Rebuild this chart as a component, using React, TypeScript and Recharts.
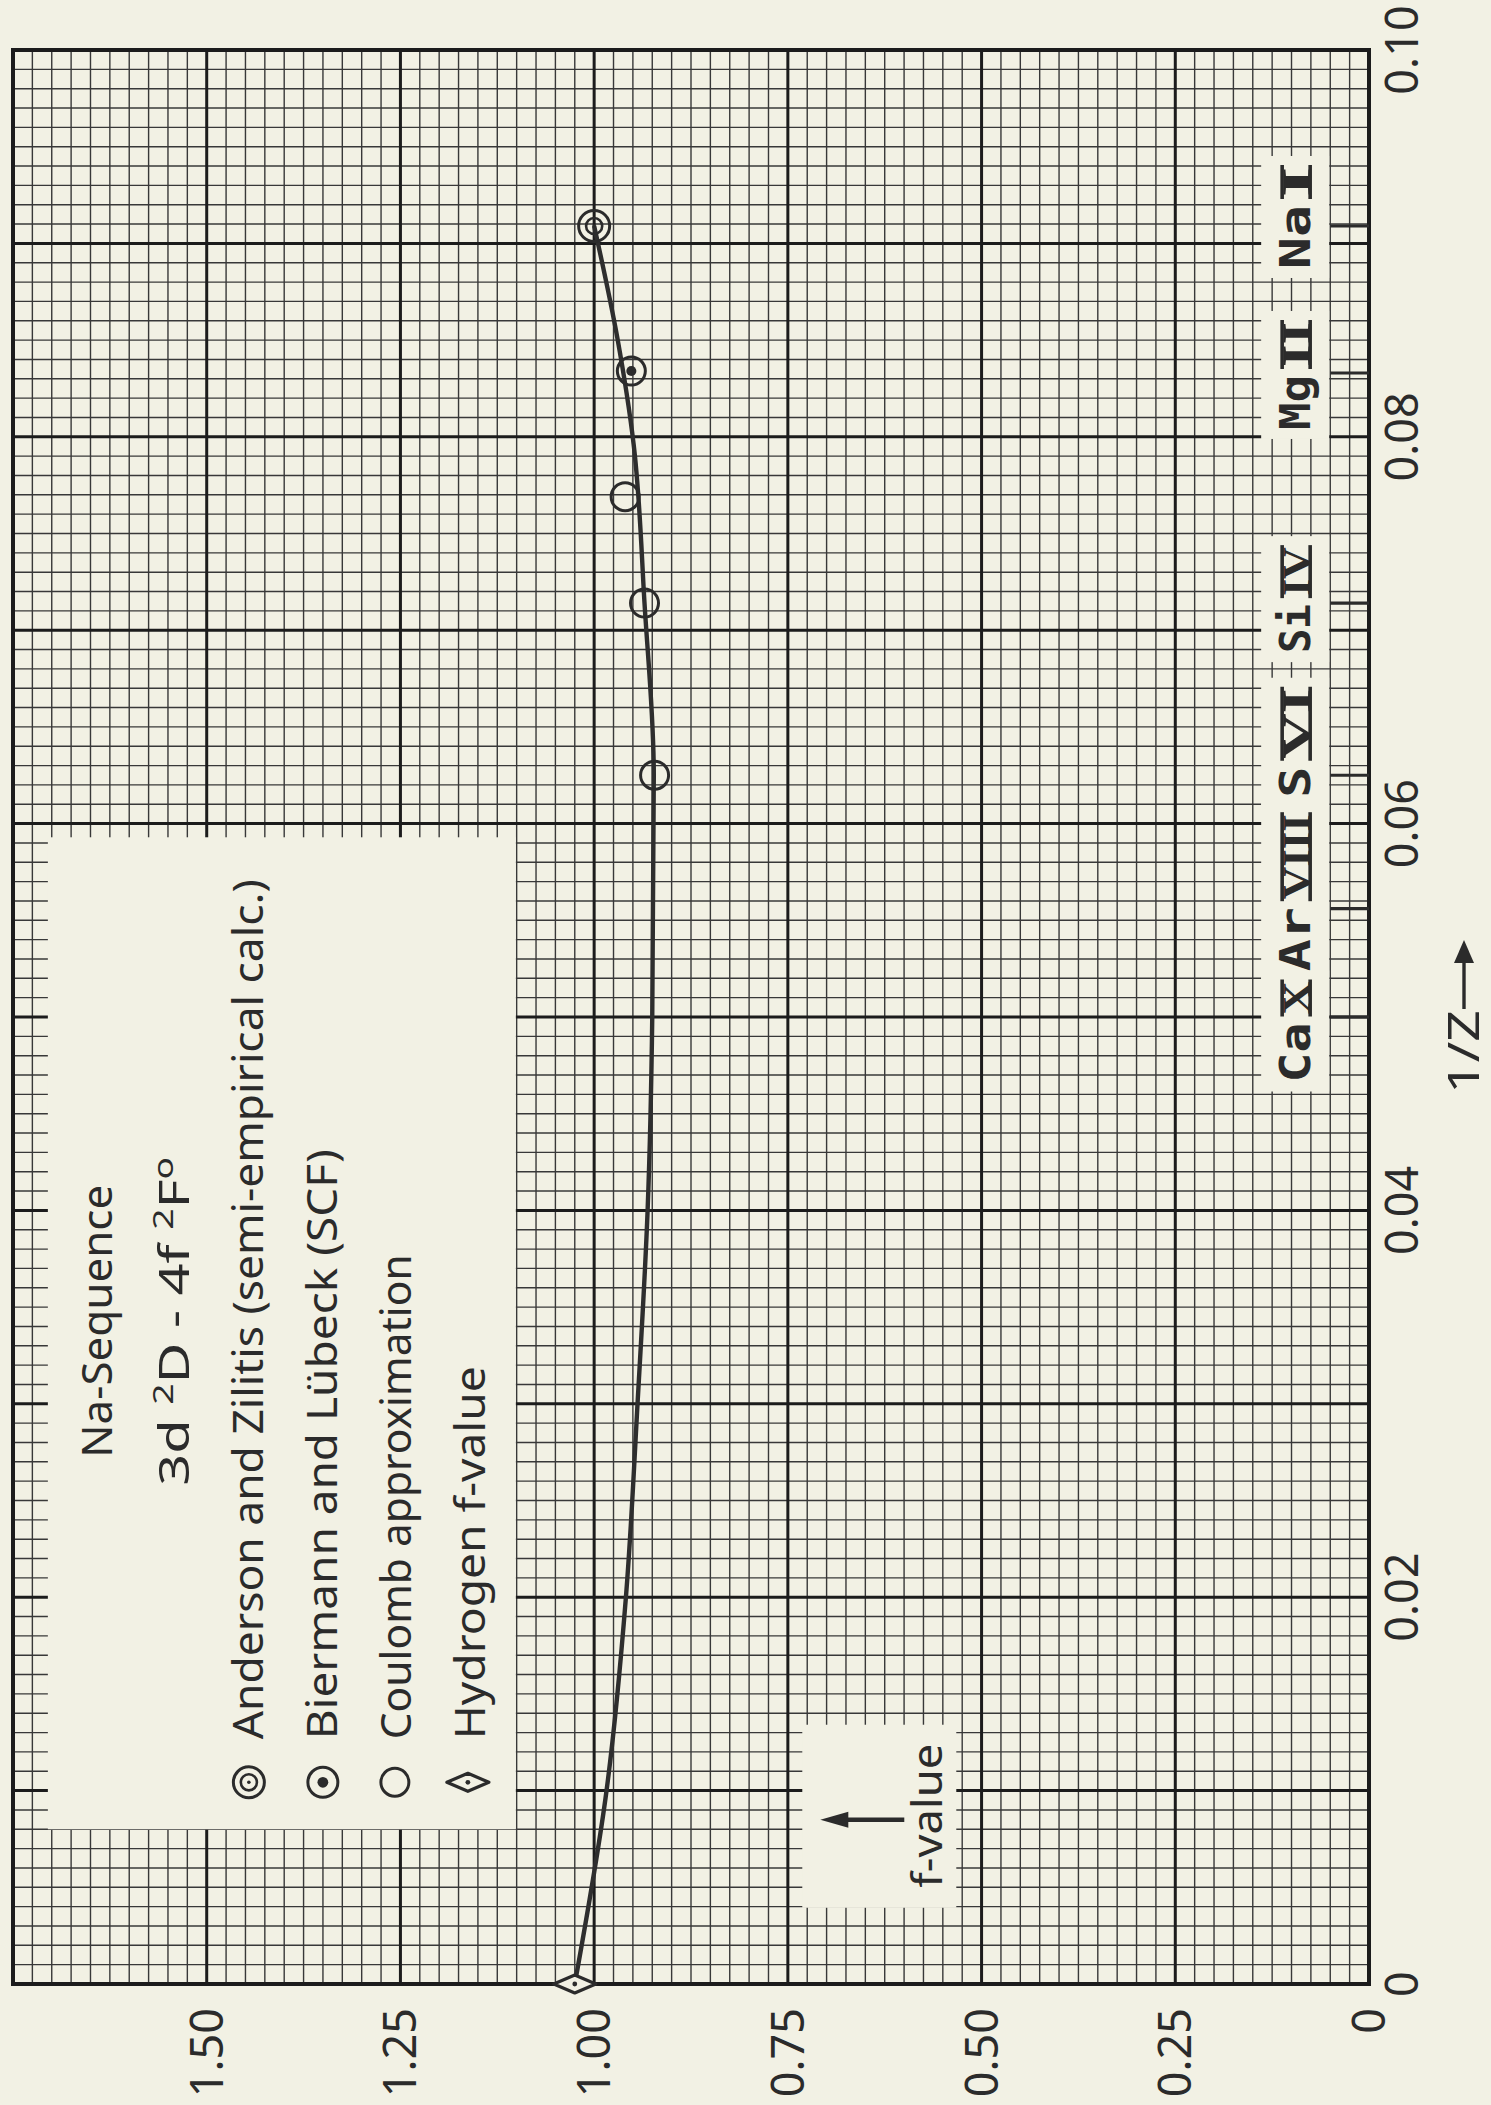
import React from 'react';
import {
  ComposedChart,
  XAxis,
  YAxis,
  CartesianGrid,
  Line,
  Scatter,
  ReferenceDot,
  ReferenceLine,
  ReferenceArea,
} from 'recharts';

const WIDTH = 1491;
const HEIGHT = 2105;
const PAPER = '#f2f1e4';
const INK = '#2b2b2b';
const SANS = '"Noto Sans", "Open Sans", "DejaVu Sans", sans-serif';

// ---------- data (1/Z, f-value) ----------
const curveZ = [0, 0.01, 0.02, 0.03, 0.04, 0.05, 0.0625, 0.0714, 0.0796, 0.0851, 0.0909];
const curveF = [1.025, 0.984, 0.959, 0.944, 0.931, 0.925, 0.923, 0.935, 0.949, 0.97, 1.0];

const andersonZ = [0.0909];
const andersonF = [1.0];
const biermannZ = [0.0834];
const biermannF = [0.952];
const coulombZ = [0.0769, 0.0714, 0.0625];
const coulombF = [0.96, 0.935, 0.922];
const hydrogenZ = [0];
const hydrogenF = [1.025];

const fTicks = [0, 0.25, 0.5, 0.75, 1.0, 1.25, 1.5];
const fTickLabels = ['0', '0.25', '0.50', '0.75', '1.00', '1.25', '1.50'];
const zTicks = [0, 0.02, 0.04, 0.06, 0.08, 0.1];
const zTickLabels = ['0', '0.02', '0.04', '0.06', '0.08', '0.10'];

const ionElements = ['Na', 'Mg', 'Si', 'S', 'Ar', 'Ca'];
const ionStages = ['I', 'II', 'IV', 'VI', 'VIII', 'X'];
const ionZ = [0.0909, 0.0833, 0.0714, 0.0625, 0.0556, 0.05];

const legendTitle = 'Na-Sequence';
const legendLabels = [
  'Anderson and Zilitis (semi-empirical calc.)',
  'Biermann and Lübeck (SCF)',
  'Coulomb approximation',
  'Hydrogen f-value',
];

// ---------- layout / style constants ----------
const ionLabelShift = [-9, 2, -4, -33, -17, 14];
const ionElemLen = [64, 55, 49, 31, 64, 60];
const ionStageLen = [34, 49, 53, 74, 89, 37];
const legendLens = [860, 590, 485, 373];

// graph-paper rulings
const minorF = Array.from({ length: 71 }, (_, i) => Math.round(i * 25) / 1000);
const majorF = Array.from({ length: 8 }, (_, i) => i * 0.25);
const minorZ = Array.from({ length: 101 }, (_, i) => i / 1000);
const majorZ = Array.from({ length: 11 }, (_, i) => i / 100);

const zip = (zs: number[], fs: number[]) => zs.map((z, i) => ({ z, f: fs[i] }));
const curveData = zip(curveZ, curveF).slice().reverse();
const andersonData = zip(andersonZ, andersonF);
const biermannData = zip(biermannZ, biermannF);
const coulombData = zip(coulombZ, coulombF);
const hydrogenData = zip(hydrogenZ, hydrogenF);

// ---------- marker drawings ----------
const drawAnderson = (cx: number, cy: number, r = 15.5) => (
  <g>
    <circle cx={cx} cy={cy} r={r} fill="none" stroke={INK} strokeWidth={3} />
    <circle cx={cx} cy={cy} r={r * 0.52} fill="none" stroke={INK} strokeWidth={2.6} />
    <circle cx={cx} cy={cy} r={1.8} fill={INK} />
  </g>
);
const drawBiermann = (cx: number, cy: number, r = 14) => (
  <g>
    <circle cx={cx} cy={cy} r={r} fill="none" stroke={INK} strokeWidth={3} />
    <circle cx={cx} cy={cy} r={r * 0.36} fill={INK} />
  </g>
);
const drawCoulomb = (cx: number, cy: number, r = 14) => (
  <circle cx={cx} cy={cy} r={r} fill="none" stroke={INK} strokeWidth={3} />
);
const drawHydrogen = (cx: number, cy: number) => (
  <g>
    <polygon
      points={`${cx - 21},${cy} ${cx},${cy - 9} ${cx + 21},${cy} ${cx},${cy + 9}`}
      fill={PAPER}
      stroke={INK}
      strokeWidth={3.2}
      strokeLinejoin="round"
    />
    <circle cx={cx} cy={cy} r={2.4} fill={INK} />
  </g>
);

// ---------- rotated text helper ----------
const RText = (props: {
  x: number;
  y: number;
  anchor?: string;
  size: number;
  len?: number;
  family?: string;
  weight?: number | string;
  children: React.ReactNode;
}) => (
  <text
    transform={`translate(${props.x},${props.y}) rotate(-90)`}
    textAnchor={props.anchor || 'start'}
    fontSize={props.size}
    fontFamily={props.family || SANS}
    fontWeight={props.weight || 400}
    fill={INK}
    textLength={props.len}
    lengthAdjust={props.len ? 'spacingAndGlyphs' : undefined}
  >
    {props.children}
  </text>
);

// ---------- axis ticks ----------
const FTick = (p: any) => {
  const i = fTicks.indexOf(p.payload.value);
  if (i < 0) return null;
  return (
    <RText x={p.x + 16} y={p.y + 24} anchor="end" size={45}>
      {fTickLabels[i]}
    </RText>
  );
};
const ZTick = (p: any) => {
  const i = zTicks.indexOf(p.payload.value);
  if (i < 0) return null;
  return (
    <RText x={p.x + 49} y={p.y} anchor="middle" size={45}>
      {zTickLabels[i]}
    </RText>
  );
};

// ---------- annotation shapes ----------
const LegendShape = (p: any) => {
  const { cx, cy } = p; // lower-left corner of the legend panel
  return (
    <g>
      <rect x={cx} y={cy - 992} width={468} height={992} fill={PAPER} />
      <RText x={cx + 64} y={cy - 508} anchor="middle" size={42} len={273}>
        {legendTitle}
      </RText>
      <text
        transform={`translate(${cx + 141},${cy - 508}) rotate(-90)`}
        textAnchor="middle"
        fontSize={42}
        fontFamily={SANS}
        fill={INK}
        textLength={329}
        lengthAdjust="spacingAndGlyphs"
      >
        {'3d '}
        <tspan dy={-16} fontSize={28}>2</tspan>
        <tspan dy={16}>{'D  -  4f '}</tspan>
        <tspan dy={-16} fontSize={28}>2</tspan>
        <tspan dy={16}>F</tspan>
        <tspan dy={-16} fontSize={28}>o</tspan>
      </text>
      {legendLabels.map((t, i) => (
        <RText key={t} x={cx + 215 + 74 * i} y={cy - 90} size={42} len={legendLens[i]}>
          {t}
        </RText>
      ))}
      {drawAnderson(cx + 201, cy - 47, 15.5)}
      {drawBiermann(cx + 275, cy - 47, 15)}
      {drawCoulomb(cx + 347, cy - 47, 14)}
      {drawHydrogen(cx + 420, cy - 47)}
    </g>
  );
};

const FValueShape = (p: any) => {
  const { cx, cy } = p;
  return (
    <g>
      <rect x={cx - 77} y={cy - 91} width={154} height={183} fill={PAPER} />
      <line x1={cx + 25} y1={cy + 4} x2={cx - 33} y2={cy + 4} stroke={INK} strokeWidth={4.5} />
      <polygon
        points={`${cx - 59},${cy + 4} ${cx - 31},${cy - 4} ${cx - 31},${cy + 12}`}
        fill={INK}
      />
      <RText x={cx + 63} y={cy} anchor="middle" size={42} len={144}>
        f-value
      </RText>
    </g>
  );
};

const TitleShape = (p: any) => {
  const { cx, cy } = p;
  return (
    <g>
      <RText x={cx + 110} y={cy + 77} size={44} len={84}>
        1/Z
      </RText>
      <line x1={cx + 95} y1={cy - 8} x2={cx + 95} y2={cy - 56} stroke={INK} strokeWidth={3.4} />
      <polygon
        points={`${cx + 95},${cy - 77} ${cx + 85},${cy - 54} ${cx + 105},${cy - 54}`}
        fill={INK}
      />
    </g>
  );
};

const makeIonShape = (i: number) => (p: any) => {
  const { cx, cy } = p;
  const total = ionElemLen[i] + 6 + ionStageLen[i];
  const center = cy + ionLabelShift[i];
  const y0 = center + total / 2;
  const base = cx + 14;
  const sStart = y0 - ionElemLen[i] - 6;
  const sEnd = sStart - ionStageLen[i];
  return (
    <g>
      <rect x={cx - 35} y={center - total / 2 - 9} width={68} height={total + 18} fill={PAPER} />
      <RText
        x={base}
        y={y0}
        size={43}
        len={ionElemLen[i]}
        weight={700}
        family='"DejaVu Sans Mono", monospace'
      >
        {ionElements[i]}
      </RText>
      <RText
        x={base}
        y={sStart - 2}
        size={40}
        len={ionStageLen[i] - 4}
        weight={700}
        family='"Liberation Serif", "DejaVu Serif", serif'
      >
        {ionStages[i]}
      </RText>
      <line x1={base} y1={sStart} x2={base} y2={sEnd} stroke={INK} strokeWidth={3.6} />
      <line x1={base - 28} y1={sStart} x2={base - 28} y2={sEnd} stroke={INK} strokeWidth={3.6} />
    </g>
  );
};

export default function App() {
  return (
    <div
      style={{
        position: 'absolute',
        left: 0,
        top: 0,
        width: WIDTH,
        height: HEIGHT,
        background: PAPER,
        overflow: 'hidden',
      }}
    >
      <ComposedChart width={WIDTH} height={HEIGHT} margin={{ top: 50, right: 0, bottom: 0, left: 13 }}>
        <XAxis
          type="number"
          dataKey="f"
          domain={[0, 1.75]}
          reversed
          ticks={fTicks}
          interval={0}
          height={121}
          axisLine={false}
          tickLine={false}
          tickSize={0}
          tickMargin={0}
          tick={FTick}
        />
        <YAxis
          type="number"
          dataKey="z"
          orientation="right"
          domain={[0, 0.1]}
          ticks={zTicks}
          interval={0}
          width={122}
          axisLine={false}
          tickLine={false}
          tickSize={0}
          tickMargin={0}
          tick={ZTick}
        />
        <CartesianGrid
          verticalValues={minorF}
          horizontalValues={minorZ}
          stroke="#383838"
          strokeWidth={1.4}
        />
        <CartesianGrid
          verticalValues={majorF}
          horizontalValues={majorZ}
          stroke="#1c1c1c"
          strokeWidth={3}
        />
        <ReferenceArea
          x1={0}
          x2={1.75}
          y1={0}
          y2={0.1}
          fill="none"
          fillOpacity={0}
          stroke="#1c1c1c"
          strokeWidth={4}
          ifOverflow="visible"
        />
        {ionZ.map((z, i) => (
          <ReferenceLine
            key={`tick-${i}`}
            segment={[
              { x: 0.05, y: z },
              { x: 0, y: z },
            ]}
            stroke={INK}
            strokeWidth={3.2}
            ifOverflow="visible"
          />
        ))}
        {ionZ.map((z, i) => (
          <ReferenceDot key={`ion-${i}`} x={0.094} y={z} r={0} shape={makeIonShape(i)} />
        ))}
        <ReferenceDot x={1.705} y={0.008} r={0} shape={LegendShape} />
        <ReferenceDot x={0.632} y={0.0087} r={0} shape={FValueShape} />
        <ReferenceDot x={0} y={0.05} r={0} shape={TitleShape} ifOverflow="visible" />
        <Line
          data={curveData}
          dataKey="z"
          type="monotoneY"
          stroke="#2e2e2e"
          strokeWidth={4.4}
          dot={false}
          activeDot={false}
          isAnimationActive={false}
        />
        <Scatter
          data={coulombData}
          isAnimationActive={false}
          shape={(p: any) => drawCoulomb(p.cx, p.cy)}
        />
        <Scatter
          data={biermannData}
          isAnimationActive={false}
          shape={(p: any) => drawBiermann(p.cx, p.cy)}
        />
        <Scatter
          data={andersonData}
          isAnimationActive={false}
          shape={(p: any) => drawAnderson(p.cx, p.cy)}
        />
        <Scatter
          data={hydrogenData}
          isAnimationActive={false}
          shape={(p: any) => drawHydrogen(p.cx, p.cy)}
        />
      </ComposedChart>
    </div>
  );
}
